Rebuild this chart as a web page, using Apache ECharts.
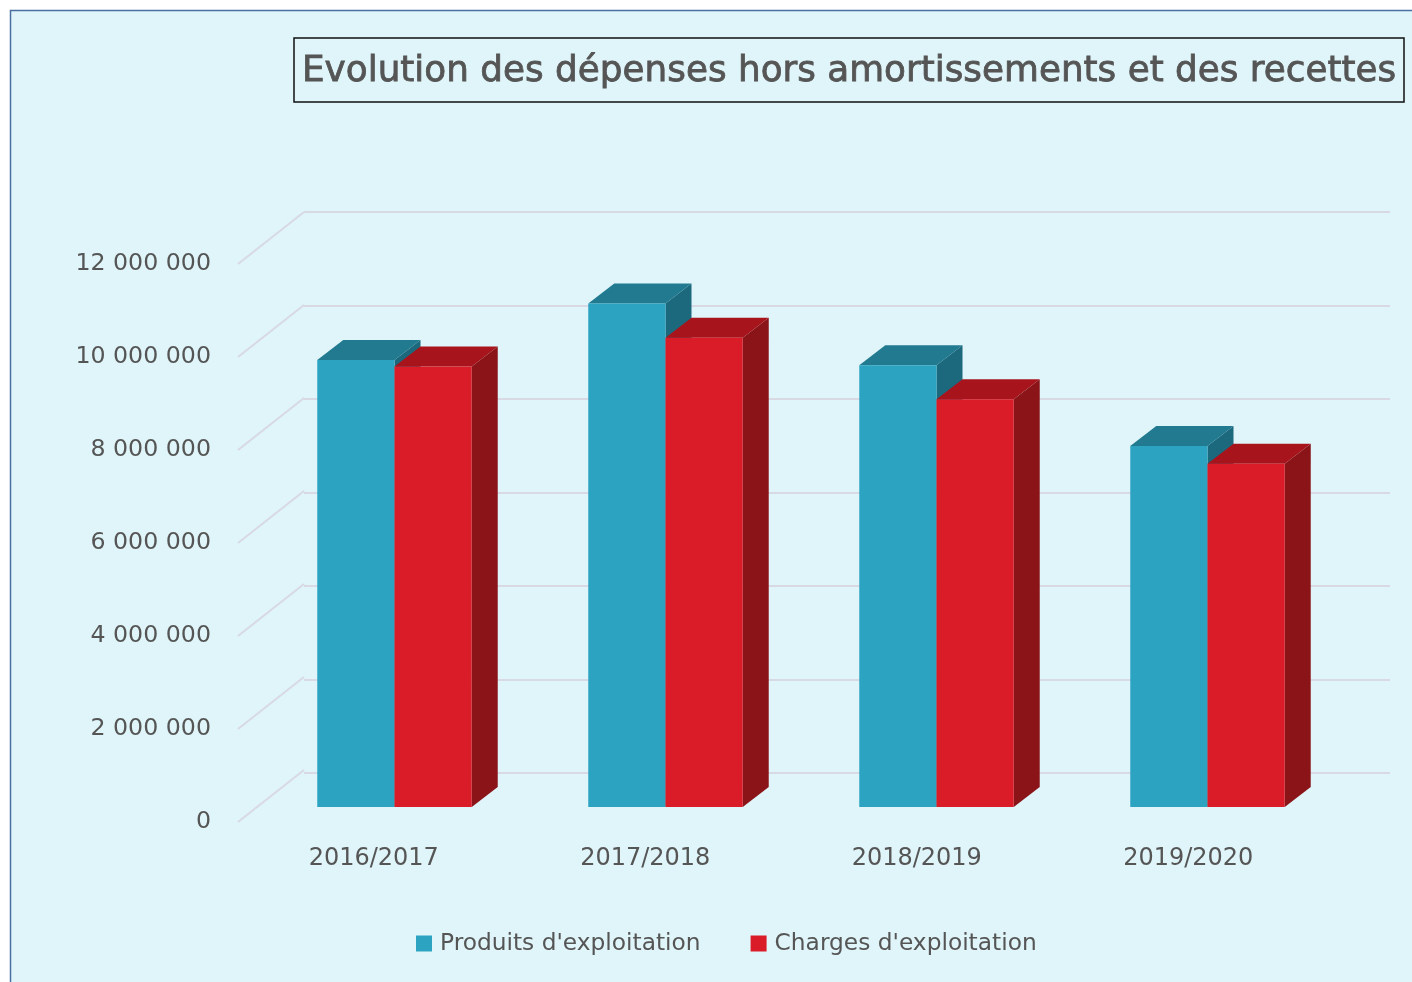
<!DOCTYPE html>
<html>
<head>
<meta charset="utf-8">
<script src="https://cdn.jsdelivr.net/npm/echarts@6/dist/echarts.min.js"></script>
<style>
  html, body { margin: 0; padding: 0; background: #fff; overflow: hidden; }
  #main { width: 1412px; height: 982px; }
</style>
</head>
<body>
<div id="main"></div>
<script>
// données
const categories = ["2016/2017", "2017/2018", "2018/2019", "2019/2020"];
const produits = [9560000, 10770000, 9450000, 7720000];
const charges = [9420000, 10040000, 8720000, 7340000];
const yTicks = [0, 2000000, 4000000, 6000000, 8000000, 10000000, 12000000];

const seriesNames = ["Produits d'exploitation", "Charges d'exploitation"];
// couleurs : face, dessus, côté
const faces = [
  { front: "#2ba3c1", top: "#217a8f", side: "#1c687d" },
  { front: "#da1c28", top: "#a8141c", side: "#8a1418" },
];

const fontFam = "'DejaVu Sans', sans-serif";
const textCol = "#555555";
const DEPTH_X = 66, DEPTH_Y = -52;   // profondeur du plan (avant -> fond)
const BAR_DX = 26, BAR_DY = -20;     // profondeur d'une barre

function fmt(v) {
  return String(v).replace(/\B(?=(\d{3})+(?!\d))/g, " ");
}

const yMax = yTicks[yTicks.length - 1];
const yStep = yTicks[1] - yTicks[0];

function yAx(idx, showLabel, showSplit) {
  return {
    type: "value", gridIndex: idx, min: 0, max: yMax, interval: yStep,
    axisLine: { show: false }, axisTick: { show: false },
    axisLabel: {
      show: showLabel, formatter: fmt, color: textCol,
      fontFamily: fontFam, fontSize: 23.7, margin: 27,
    },
    splitLine: { show: showSplit, lineStyle: { color: "#d8d9e3", width: 2 } },
  };
}

function xAx(idx, showLabel) {
  return {
    type: "category", gridIndex: idx, data: categories,
    axisLine: { show: false }, axisTick: { show: false },
    axisLabel: {
      show: showLabel, color: textCol, fontFamily: fontFam, fontSize: 24, margin: 25,
    },
    splitLine: { show: false },
  };
}

function barItem(serieIdx) {
  return function (params, api) {
    const i = api.value(0);
    const v = api.value(1);
    const top = api.coord([i, v]);
    const base = api.coord([i, 0]);
    const band = api.size([1, 0])[0];
    const w = band * 0.285;
    const x0 = serieIdx === 0 ? top[0] - w : top[0];
    const x1 = x0 + w;
    const y0 = top[1], y1 = base[1];
    const c = faces[serieIdx];
    return {
      type: "group",
      children: [
        { type: "polygon", shape: { points: [[x1, y0], [x1 + BAR_DX, y0 + BAR_DY], [x1 + BAR_DX, y1 + BAR_DY], [x1, y1]] },
          style: { fill: c.side } },
        { type: "polygon", shape: { points: [[x0, y0], [x0 + BAR_DX, y0 + BAR_DY], [x1 + BAR_DX, y0 + BAR_DY], [x1, y0]] },
          style: { fill: c.top } },
        { type: "rect", shape: { x: x0, y: y0, width: w, height: y1 - y0 },
          style: { fill: c.front } },
      ],
    };
  };
}

const chart = echarts.init(document.getElementById("main"));

const option = {
  backgroundColor: "#ffffff",
  animation: false,
  graphic: [
    { type: "rect", z: -10, shape: { x: 10.5, y: 10.5, width: 1500, height: 1200 },
      style: { fill: "#dff5f9", stroke: "#4a6fa3", lineWidth: 1.5 } },
  ],
  title: {
    text: "Evolution des dépenses hors amortissements et des recettes",
    left: 294, top: 38,
    padding: [16, 8, 12, 8],
    borderColor: "#111", borderWidth: 1.5,
    textStyle: {
      color: textCol, fontFamily: fontFam, fontSize: 35.8, fontWeight: "normal",
      textBorderColor: textCol, textBorderWidth: 0.8,
    },
  },
  legend: {
    bottom: 22, left: 411,
    icon: "rect", itemWidth: 16, itemHeight: 16, itemGap: 50,
    data: seriesNames,
    textStyle: { color: textCol, fontFamily: fontFam, fontSize: 23.3, padding: [0, 0, 0, 3] },
  },
  grid: [
    // plan avant (étiquettes)
    { left: 238, right: 88, top: 264, bottom: 160 },
    // plan du fond (grille)
    { left: 304, right: 22, top: 212, bottom: 209 },
    // plan des barres
    { left: 259, right: 69, top: 246, bottom: 175 },
  ],
  xAxis: [xAx(0, true), xAx(1, false), xAx(2, false)],
  yAxis: [yAx(0, true, false), yAx(1, false, true), yAx(2, false, false)],
  series: [
    {
      type: "custom", name: "diag", xAxisIndex: 0, yAxisIndex: 0, silent: true,
      data: yTicks.map((t) => [0, t]),
      renderItem: function (params, api) {
        const cs = params.coordSys;
        const y = api.coord([0, api.value(1)])[1];
        return {
          type: "line",
          shape: { x1: cs.x, y1: y, x2: cs.x + DEPTH_X, y2: y + DEPTH_Y },
          style: { stroke: "#d8d9e3", lineWidth: 2 },
        };
      },
    },
    {
      type: "custom", name: seriesNames[0], xAxisIndex: 2, yAxisIndex: 2,
      itemStyle: { color: faces[0].front },
      data: produits.map((v, i) => [i, v]),
      renderItem: barItem(0), z: 3,
    },
    {
      type: "custom", name: seriesNames[1], xAxisIndex: 2, yAxisIndex: 2,
      itemStyle: { color: faces[1].front },
      data: charges.map((v, i) => [i, v]),
      renderItem: barItem(1), z: 4,
    },
  ],
};

chart.setOption(option);
</script>
</body>
</html>
